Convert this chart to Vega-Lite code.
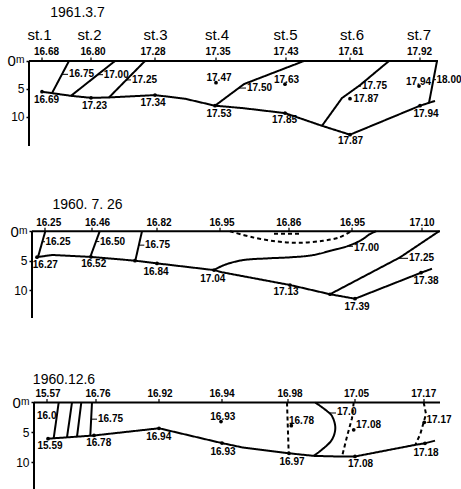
{
  "$schema": "https://vega.github.io/schema/vega-lite/v6.json",
  "background": "white",
  "padding": {"left": 7, "top": 0, "right": 0, "bottom": 0},
  "spacing": 50,
  "bounds": "flush",
  "resolve": {"scale": {"x": "independent", "y": "independent"}},
  "config": {
    "view": {"stroke": null},
    "axis": {"labelFont": "Liberation Sans", "labelColor": "#000", "tickColor": "#000", "labelFontSize": 12, "tickSize": 3, "tickWidth": 1.5, "labelPadding": 2, "grid": false, "domain": false, "title": null},
    "text": {"font": "Liberation Sans", "color": "#000", "baseline": "middle"},
    "point": {"color": "#000", "filled": true, "opacity": 1, "size": 14},
    "rule": {"color": "#000", "strokeWidth": 1.2},
    "line": {"color": "#000"}
  },
  "datasets": {
    "lines": [
      {"p": 1, "id": "surface", "kind": "surface", "x": 0, "d": 0},
      {"p": 1, "id": "surface", "kind": "surface", "x": 409, "d": 0},
      {"p": 1, "id": "axis", "kind": "axis", "x": 0, "d": 0},
      {"p": 1, "id": "axis", "kind": "axis", "x": 0, "d": 15.2},
      {"p": 1, "id": "bottom", "kind": "bottom", "x": 13, "d": 5.5},
      {"p": 1, "id": "bottom", "kind": "bottom", "x": 42, "d": 6.23},
      {"p": 1, "id": "bottom", "kind": "bottom", "x": 62, "d": 6.59},
      {"p": 1, "id": "bottom", "kind": "bottom", "x": 80, "d": 6.52},
      {"p": 1, "id": "bottom", "kind": "bottom", "x": 126, "d": 6.1},
      {"p": 1, "id": "bottom", "kind": "bottom", "x": 156, "d": 6.75},
      {"p": 1, "id": "bottom", "kind": "bottom", "x": 186, "d": 8.0},
      {"p": 1, "id": "bottom", "kind": "bottom", "x": 213, "d": 8.41},
      {"p": 1, "id": "bottom", "kind": "bottom", "x": 256, "d": 9.32},
      {"p": 1, "id": "bottom", "kind": "bottom", "x": 293, "d": 11.59},
      {"p": 1, "id": "bottom", "kind": "bottom", "x": 321, "d": 13.18},
      {"p": 1, "id": "bottom", "kind": "bottom", "x": 391, "d": 8.0},
      {"p": 1, "id": "bottom", "kind": "bottom", "x": 406, "d": 7.14},
      {"p": 1, "id": "16.75", "kind": "isotherm", "x": 40, "d": 0},
      {"p": 1, "id": "16.75", "kind": "isotherm", "x": 23, "d": 5.75},
      {"p": 1, "id": "17.00", "kind": "isotherm", "x": 86, "d": 0},
      {"p": 1, "id": "17.00", "kind": "isotherm", "x": 42, "d": 6.23},
      {"p": 1, "id": "17.25", "kind": "isotherm", "x": 116, "d": 0},
      {"p": 1, "id": "17.25", "kind": "isotherm", "x": 80, "d": 6.52},
      {"p": 1, "id": "17.50", "kind": "isotherm", "x": 275, "d": 0},
      {"p": 1, "id": "17.50", "kind": "isotherm", "x": 215, "d": 4.13},
      {"p": 1, "id": "17.50", "kind": "isotherm", "x": 186, "d": 8.0},
      {"p": 1, "id": "17.75", "kind": "isotherm", "x": 360, "d": 0},
      {"p": 1, "id": "17.75", "kind": "isotherm", "x": 331, "d": 4.32},
      {"p": 1, "id": "17.75", "kind": "isotherm", "x": 313, "d": 6.63},
      {"p": 1, "id": "17.75", "kind": "isotherm", "x": 293, "d": 11.59},
      {"p": 1, "id": "18.00", "kind": "isotherm", "x": 408, "d": 0},
      {"p": 1, "id": "18.00", "kind": "isotherm", "x": 400, "d": 7.49},

      {"p": 2, "id": "surface", "kind": "surface", "x": 3, "d": 0},
      {"p": 2, "id": "surface", "kind": "surface", "x": 411, "d": 0},
      {"p": 2, "id": "axis", "kind": "axis", "x": 3, "d": 0},
      {"p": 2, "id": "axis", "kind": "axis", "x": 3, "d": 14.75},
      {"p": 2, "id": "bottom", "kind": "bottom", "x": 8, "d": 4.4},
      {"p": 2, "id": "bottom", "kind": "bottom", "x": 23, "d": 4.03},
      {"p": 2, "id": "bottom", "kind": "bottom", "x": 62, "d": 4.36},
      {"p": 2, "id": "bottom", "kind": "bottom", "x": 106, "d": 5.0},
      {"p": 2, "id": "bottom", "kind": "bottom", "x": 128, "d": 5.46},
      {"p": 2, "id": "bottom", "kind": "bottom", "x": 185, "d": 6.6},
      {"p": 2, "id": "bottom", "kind": "bottom", "x": 193, "d": 6.97},
      {"p": 2, "id": "bottom", "kind": "bottom", "x": 261, "d": 9.14},
      {"p": 2, "id": "bottom", "kind": "bottom", "x": 301, "d": 10.71},
      {"p": 2, "id": "bottom", "kind": "bottom", "x": 326, "d": 11.47},
      {"p": 2, "id": "bottom", "kind": "bottom", "x": 392, "d": 7.05},
      {"p": 2, "id": "bottom", "kind": "bottom", "x": 403, "d": 6.37},
      {"p": 2, "id": "16.25", "kind": "isotherm", "x": 16.3, "d": 0},
      {"p": 2, "id": "16.25", "kind": "isotherm", "x": 9, "d": 4.38},
      {"p": 2, "id": "16.50", "kind": "isotherm", "x": 70.7, "d": 0},
      {"p": 2, "id": "16.50", "kind": "isotherm", "x": 61.3, "d": 4.36},
      {"p": 2, "id": "16.75", "kind": "isotherm", "x": 113, "d": 0},
      {"p": 2, "id": "16.75", "kind": "isotherm", "x": 106.3, "d": 5.0},
      {"p": 2, "id": "16.90", "kind": "isotherm (dashed)", "x": 201, "d": 0},
      {"p": 2, "id": "16.90", "kind": "isotherm (dashed)", "x": 225, "d": 1.08},
      {"p": 2, "id": "16.90", "kind": "isotherm (dashed)", "x": 249, "d": 1.75},
      {"p": 2, "id": "16.90", "kind": "isotherm (dashed)", "x": 271, "d": 1.95},
      {"p": 2, "id": "16.90", "kind": "isotherm (dashed)", "x": 294, "d": 1.61},
      {"p": 2, "id": "16.90", "kind": "isotherm (dashed)", "x": 310, "d": 1.07},
      {"p": 2, "id": "16.90", "kind": "isotherm (dashed)", "x": 322, "d": 0},
      {"p": 2, "id": "16.85", "kind": "isotherm (dashed)", "x": 245, "d": 0.4},
      {"p": 2, "id": "16.85", "kind": "isotherm (dashed)", "x": 270, "d": 0.4},
      {"p": 2, "id": "17.00", "kind": "isotherm", "x": 185, "d": 6.6},
      {"p": 2, "id": "17.00", "kind": "isotherm", "x": 195, "d": 5.75},
      {"p": 2, "id": "17.00", "kind": "isotherm", "x": 213, "d": 4.93},
      {"p": 2, "id": "17.00", "kind": "isotherm", "x": 238, "d": 4.61},
      {"p": 2, "id": "17.00", "kind": "isotherm", "x": 260, "d": 4.44},
      {"p": 2, "id": "17.00", "kind": "isotherm", "x": 283, "d": 4.08},
      {"p": 2, "id": "17.00", "kind": "isotherm", "x": 303, "d": 3.25},
      {"p": 2, "id": "17.00", "kind": "isotherm", "x": 320, "d": 2.44},
      {"p": 2, "id": "17.00", "kind": "isotherm", "x": 333, "d": 1.42},
      {"p": 2, "id": "17.00", "kind": "isotherm", "x": 341, "d": 0.47},
      {"p": 2, "id": "17.00", "kind": "isotherm", "x": 347, "d": 0},
      {"p": 2, "id": "17.25", "kind": "isotherm", "x": 301, "d": 10.71},
      {"p": 2, "id": "17.25", "kind": "isotherm", "x": 371, "d": 4.44},
      {"p": 2, "id": "17.25", "kind": "isotherm", "x": 410, "d": 0},

      {"p": 3, "id": "surface", "kind": "surface", "x": 5, "d": 0},
      {"p": 3, "id": "surface", "kind": "surface", "x": 411, "d": 0},
      {"p": 3, "id": "axis", "kind": "axis", "x": 5, "d": 0},
      {"p": 3, "id": "axis", "kind": "axis", "x": 5, "d": 14.42},
      {"p": 3, "id": "bottom", "kind": "bottom", "x": 19, "d": 6.03},
      {"p": 3, "id": "bottom", "kind": "bottom", "x": 65, "d": 5.5},
      {"p": 3, "id": "bottom", "kind": "bottom", "x": 130, "d": 4.3},
      {"p": 3, "id": "bottom", "kind": "bottom", "x": 193, "d": 6.77},
      {"p": 3, "id": "bottom", "kind": "bottom", "x": 213, "d": 7.48},
      {"p": 3, "id": "bottom", "kind": "bottom", "x": 260, "d": 8.47},
      {"p": 3, "id": "bottom", "kind": "bottom", "x": 285, "d": 8.9},
      {"p": 3, "id": "bottom", "kind": "bottom", "x": 313, "d": 9.02},
      {"p": 3, "id": "bottom", "kind": "bottom", "x": 326, "d": 9.0},
      {"p": 3, "id": "bottom", "kind": "bottom", "x": 386, "d": 7.07},
      {"p": 3, "id": "bottom", "kind": "bottom", "x": 396, "d": 6.8},
      {"p": 3, "id": "bottom", "kind": "bottom", "x": 406, "d": 6.37},
      {"p": 3, "id": "16.00", "kind": "isotherm", "x": 29.7, "d": 0},
      {"p": 3, "id": "16.00", "kind": "isotherm", "x": 24.7, "d": 5.96},
      {"p": 3, "id": "16.25", "kind": "isotherm", "x": 43, "d": 0},
      {"p": 3, "id": "16.25", "kind": "isotherm", "x": 38, "d": 5.81},
      {"p": 3, "id": "16.50", "kind": "isotherm", "x": 52.3, "d": 0},
      {"p": 3, "id": "16.50", "kind": "isotherm", "x": 48, "d": 5.7},
      {"p": 3, "id": "16.75", "kind": "isotherm", "x": 63, "d": 0},
      {"p": 3, "id": "16.75", "kind": "isotherm", "x": 61.3, "d": 5.54},
      {"p": 3, "id": "16.90", "kind": "isotherm (dashed)", "x": 258, "d": 0},
      {"p": 3, "id": "16.90", "kind": "isotherm (dashed)", "x": 259.7, "d": 8.47},
      {"p": 3, "id": "17.0", "kind": "isotherm", "x": 286.3, "d": 0},
      {"p": 3, "id": "17.0", "kind": "isotherm", "x": 298, "d": 1.43},
      {"p": 3, "id": "17.0", "kind": "isotherm", "x": 303, "d": 2.27},
      {"p": 3, "id": "17.0", "kind": "isotherm", "x": 306.3, "d": 4.23},
      {"p": 3, "id": "17.0", "kind": "isotherm", "x": 303, "d": 6.18},
      {"p": 3, "id": "17.0", "kind": "isotherm", "x": 293, "d": 7.85},
      {"p": 3, "id": "17.0", "kind": "isotherm", "x": 284.7, "d": 8.89},
      {"p": 3, "id": "17.05", "kind": "isotherm (dashed)", "x": 324.7, "d": 0},
      {"p": 3, "id": "17.05", "kind": "isotherm (dashed)", "x": 323, "d": 2.62},
      {"p": 3, "id": "17.05", "kind": "isotherm (dashed)", "x": 318, "d": 5.68},
      {"p": 3, "id": "17.05", "kind": "isotherm (dashed)", "x": 313, "d": 9.02},
      {"p": 3, "id": "17.15", "kind": "isotherm (dashed)", "x": 394.7, "d": 0},
      {"p": 3, "id": "17.15", "kind": "isotherm (dashed)", "x": 397, "d": 1.92},
      {"p": 3, "id": "17.15", "kind": "isotherm (dashed)", "x": 391.3, "d": 5.26},
      {"p": 3, "id": "17.15", "kind": "isotherm (dashed)", "x": 386.3, "d": 7.07}
    ],
    "leaders": [
      {"p": 1, "x": 33, "x2": 39, "d": 2.39},
      {"p": 1, "x": 68.7, "x2": 74, "d": 2.45},
      {"p": 1, "x": 97.3, "x2": 102, "d": 3.39},
      {"p": 1, "x": 210, "x2": 217, "d": 4.84},
      {"p": 1, "x": 329.6, "x2": 332, "d": 4.5},
      {"p": 1, "x": 404.4, "x2": 407, "d": 3.34},
      {"p": 2, "x": 13.3, "x2": 16, "d": 1.78},
      {"p": 2, "x": 66.9, "x2": 70.3, "d": 1.75},
      {"p": 2, "x": 109.8, "x2": 115.3, "d": 2.36},
      {"p": 2, "x": 320, "x2": 324, "d": 2.55},
      {"p": 2, "x": 369.5, "x2": 379, "d": 4.6},
      {"p": 3, "x": 62.1, "x2": 68, "d": 2.78},
      {"p": 3, "x": 300.4, "x2": 307, "d": 1.75}
    ],
    "ticks": [
      {"p": 1, "x": 13}, {"p": 1, "x": 62}, {"p": 1, "x": 126}, {"p": 1, "x": 187}, {"p": 1, "x": 257}, {"p": 1, "x": 321}, {"p": 1, "x": 391},
      {"p": 2, "x": 16}, {"p": 2, "x": 63}, {"p": 2, "x": 128}, {"p": 2, "x": 191}, {"p": 2, "x": 260}, {"p": 2, "x": 323}, {"p": 2, "x": 393},
      {"p": 3, "x": 18}, {"p": 3, "x": 67}, {"p": 3, "x": 130}, {"p": 3, "x": 193}, {"p": 3, "x": 259}, {"p": 3, "x": 326}, {"p": 3, "x": 395}
    ],
    "points": [
      {"p": 1, "x": 13, "d": 5.5}, {"p": 1, "x": 62, "d": 6.59}, {"p": 1, "x": 126, "d": 6.1}, {"p": 1, "x": 186, "d": 8.0},
      {"p": 1, "x": 256, "d": 9.32}, {"p": 1, "x": 321, "d": 13.18}, {"p": 1, "x": 391, "d": 8.0},
      {"p": 1, "x": 187, "d": 3.89}, {"p": 1, "x": 256, "d": 4.14}, {"p": 1, "x": 321, "d": 6.75}, {"p": 1, "x": 390, "d": 4.48},
      {"p": 2, "x": 8, "d": 4.4}, {"p": 2, "x": 62, "d": 4.36}, {"p": 2, "x": 106, "d": 5.0}, {"p": 2, "x": 128, "d": 5.46},
      {"p": 2, "x": 185, "d": 6.6}, {"p": 2, "x": 261, "d": 9.14}, {"p": 2, "x": 301, "d": 10.71}, {"p": 2, "x": 326, "d": 11.47}, {"p": 2, "x": 392, "d": 7.05},
      {"p": 3, "x": 19, "d": 6.03}, {"p": 3, "x": 65, "d": 5.5}, {"p": 3, "x": 130, "d": 4.3}, {"p": 3, "x": 193, "d": 6.77},
      {"p": 3, "x": 260, "d": 8.47}, {"p": 3, "x": 326, "d": 9.0}, {"p": 3, "x": 396, "d": 6.8},
      {"p": 3, "x": 192, "d": 3.17}, {"p": 3, "x": 262.3, "d": 3.87}, {"p": 3, "x": 324.7, "d": 4.55}, {"p": 3, "x": 395.3, "d": 3.3}
    ],
    "labels": [
      {"p": 1, "role": "station", "x": 10.5, "d": -4.65, "t": "st.1"},
      {"p": 1, "role": "station", "x": 60.5, "d": -4.65, "t": "st.2"},
      {"p": 1, "role": "station", "x": 126.5, "d": -4.65, "t": "st.3"},
      {"p": 1, "role": "station", "x": 188, "d": -4.65, "t": "st.4"},
      {"p": 1, "role": "station", "x": 256.5, "d": -4.65, "t": "st.5"},
      {"p": 1, "role": "station", "x": 323, "d": -4.65, "t": "st.6"},
      {"p": 1, "role": "station", "x": 390, "d": -4.65, "t": "st.7"},
      {"p": 1, "role": "value", "x": 17.5, "d": -1.6, "t": "16.68"},
      {"p": 1, "role": "value", "x": 64, "d": -1.6, "t": "16.80"},
      {"p": 1, "role": "value", "x": 124, "d": -1.6, "t": "17.28"},
      {"p": 1, "role": "value", "x": 189, "d": -1.6, "t": "17.35"},
      {"p": 1, "role": "value", "x": 257, "d": -1.6, "t": "17.43"},
      {"p": 1, "role": "value", "x": 322, "d": -1.6, "t": "17.61"},
      {"p": 1, "role": "value", "x": 390.5, "d": -1.6, "t": "17.92"},
      {"p": 1, "role": "value", "x": 17.5, "d": 7.0, "t": "16.69"},
      {"p": 1, "role": "value", "x": 65.5, "d": 7.96, "t": "17.23"},
      {"p": 1, "role": "value", "x": 124, "d": 7.48, "t": "17.34"},
      {"p": 1, "role": "value", "x": 190, "d": 9.5, "t": "17.53"},
      {"p": 1, "role": "value", "x": 255.5, "d": 10.63, "t": "17.85"},
      {"p": 1, "role": "value", "x": 321.5, "d": 14.36, "t": "17.87"},
      {"p": 1, "role": "value", "x": 397, "d": 9.45, "t": "17.94"},
      {"p": 1, "role": "value", "x": 190, "d": 3.0, "t": "17.47"},
      {"p": 1, "role": "value", "x": 257.5, "d": 3.48, "t": "17.63"},
      {"p": 1, "role": "value", "x": 337, "d": 6.86, "t": "17.87"},
      {"p": 1, "role": "value", "x": 389.5, "d": 3.73, "t": "17.94"},
      {"p": 1, "role": "isotherm", "x": 40, "d": 2.39, "t": "16.75"},
      {"p": 1, "role": "isotherm", "x": 74.7, "d": 2.45, "t": "17.00"},
      {"p": 1, "role": "isotherm", "x": 103, "d": 3.39, "t": "17.25"},
      {"p": 1, "role": "isotherm", "x": 218, "d": 4.84, "t": "17.50"},
      {"p": 1, "role": "isotherm", "x": 333, "d": 4.5, "t": "17.75"},
      {"p": 1, "role": "isotherm", "x": 407.5, "d": 3.34, "t": "18.00"},

      {"p": 2, "role": "value", "x": 19.7, "d": -1.33, "t": "16.25"},
      {"p": 2, "role": "value", "x": 68.5, "d": -1.33, "t": "16.46"},
      {"p": 2, "role": "value", "x": 130, "d": -1.33, "t": "16.82"},
      {"p": 2, "role": "value", "x": 193, "d": -1.33, "t": "16.95"},
      {"p": 2, "role": "value", "x": 259.7, "d": -1.33, "t": "16.86"},
      {"p": 2, "role": "value", "x": 323.5, "d": -1.33, "t": "16.95"},
      {"p": 2, "role": "value", "x": 393, "d": -1.33, "t": "17.10"},
      {"p": 2, "role": "value", "x": 16.3, "d": 5.73, "t": "16.27"},
      {"p": 2, "role": "value", "x": 64.7, "d": 5.5, "t": "16.52"},
      {"p": 2, "role": "value", "x": 127, "d": 6.88, "t": "16.84"},
      {"p": 2, "role": "value", "x": 183.8, "d": 8.08, "t": "17.04"},
      {"p": 2, "role": "value", "x": 257, "d": 10.27, "t": "17.13"},
      {"p": 2, "role": "value", "x": 328, "d": 12.9, "t": "17.39"},
      {"p": 2, "role": "value", "x": 397, "d": 8.46, "t": "17.38"},
      {"p": 2, "role": "isotherm", "x": 16.5, "d": 1.78, "t": "16.25"},
      {"p": 2, "role": "isotherm", "x": 71, "d": 1.75, "t": "16.50"},
      {"p": 2, "role": "isotherm", "x": 116, "d": 2.36, "t": "16.75"},
      {"p": 2, "role": "isotherm", "x": 325, "d": 2.83, "t": "17.00"},
      {"p": 2, "role": "isotherm", "x": 380, "d": 4.6, "t": "17.25"},

      {"p": 3, "role": "value", "x": 19, "d": -1.42, "t": "15.57"},
      {"p": 3, "role": "value", "x": 69, "d": -1.42, "t": "16.76"},
      {"p": 3, "role": "value", "x": 131, "d": -1.42, "t": "16.92"},
      {"p": 3, "role": "value", "x": 193, "d": -1.42, "t": "16.94"},
      {"p": 3, "role": "value", "x": 261, "d": -1.42, "t": "16.98"},
      {"p": 3, "role": "value", "x": 327.5, "d": -1.42, "t": "17.05"},
      {"p": 3, "role": "value", "x": 394.7, "d": -1.42, "t": "17.17"},
      {"p": 3, "role": "value", "x": 21, "d": 7.25, "t": "15.59"},
      {"p": 3, "role": "value", "x": 69.7, "d": 6.68, "t": "16.78"},
      {"p": 3, "role": "value", "x": 129.7, "d": 5.8, "t": "16.94"},
      {"p": 3, "role": "value", "x": 194, "d": 8.17, "t": "16.93"},
      {"p": 3, "role": "value", "x": 263, "d": 9.87, "t": "16.97"},
      {"p": 3, "role": "value", "x": 331.5, "d": 10.28, "t": "17.08"},
      {"p": 3, "role": "value", "x": 397, "d": 8.42, "t": "17.18"},
      {"p": 3, "role": "value", "x": 193.8, "d": 2.43, "t": "16.93"},
      {"p": 3, "role": "value", "x": 272.5, "d": 3.05, "t": "16.78"},
      {"p": 3, "role": "value", "x": 339.5, "d": 3.7, "t": "17.08"},
      {"p": 3, "role": "value", "x": 410, "d": 2.85, "t": "17.17"},
      {"p": 3, "role": "isotherm", "x": 8, "d": 2.2, "t": "16.0"},
      {"p": 3, "role": "isotherm", "x": 69, "d": 2.78, "t": "16.75"},
      {"p": 3, "role": "isotherm", "x": 308, "d": 1.6, "t": "17.0"}
    ],
    "dates": [
      {"p": 1, "x": 48.5, "d": -8.58, "t": "1961.3.7"},
      {"p": 2, "x": 58.5, "d": -4.47, "t": "1960. 7. 26"},
      {"p": 3, "x": 35, "d": -3.75, "t": "1960.12.6"}
    ]
  },
  "vconcat": [
    {
      "width": 411, "height": 146,
      "layer": [
        {"data": {"name": "lines"}, "transform": [{"filter": "datum.p == 1"}],
         "mark": {"type": "line"},
         "encoding": {
           "x": {"field": "x", "type": "quantitative", "scale": {"domain": [0, 411], "nice": false, "zero": false}, "axis": null},
           "y": {"field": "d", "type": "quantitative", "scale": {"domain": [-10.9, 15.2], "reverse": true, "nice": false, "zero": false},
                 "axis": {"values": [0, 5, 10], "offset": 0, "labelExpr": "datum.value == 0 ? '0ᵐ' : datum.label", "labelFontSize": {"condition": {"test": "datum.value == 0", "value": 15}, "value": 12}}},
           "detail": {"field": "id"},
           "order": {"value": null},
           "strokeWidth": {"field": "kind", "type": "nominal", "scale": {"domain": ["surface", "axis", "bottom", "isotherm", "isotherm (dashed)"], "range": [2, 2, 1.5, 1.2, 1.2]}, "legend": null},
           "strokeDash": {"field": "kind", "type": "nominal", "scale": {"domain": ["surface", "axis", "bottom", "isotherm", "isotherm (dashed)"], "range": [[1, 0], [1, 0], [1, 0], [1, 0], [4, 3]]}, "legend": null}
         }},
        {"data": {"name": "leaders"}, "transform": [{"filter": "datum.p == 1"}],
         "mark": {"type": "rule", "strokeWidth": 1},
         "encoding": {"x": {"field": "x", "type": "quantitative"}, "x2": {"field": "x2"}, "y": {"field": "d", "type": "quantitative"}}},
        {"data": {"name": "ticks"}, "transform": [{"filter": "datum.p == 1"}],
         "mark": {"type": "rule", "strokeWidth": 1.2},
         "encoding": {"x": {"field": "x", "type": "quantitative"}, "y": {"datum": 0}, "y2": {"datum": -0.6}}},
        {"data": {"name": "points"}, "transform": [{"filter": "datum.p == 1"}],
         "mark": {"type": "point"},
         "encoding": {"x": {"field": "x", "type": "quantitative"}, "y": {"field": "d", "type": "quantitative"}}},
        {"data": {"name": "dates"}, "transform": [{"filter": "datum.p == 1"}],
         "mark": {"type": "text", "align": "center", "fontSize": 14},
         "encoding": {"x": {"field": "x", "type": "quantitative"}, "y": {"field": "d", "type": "quantitative"}, "text": {"field": "t", "type": "nominal"}}},
        {"data": {"name": "labels"}, "transform": [{"filter": "datum.p == 1 && datum.role == 'station'"}],
         "mark": {"type": "text", "align": "center", "fontSize": 15},
         "encoding": {"x": {"field": "x", "type": "quantitative"}, "y": {"field": "d", "type": "quantitative"}, "text": {"field": "t"}}},
        {"data": {"name": "labels"}, "transform": [{"filter": "datum.p == 1 && datum.role == 'value'"}],
         "mark": {"type": "text", "align": "center", "fontSize": 10, "fontWeight": "bold"},
         "encoding": {"x": {"field": "x", "type": "quantitative"}, "y": {"field": "d", "type": "quantitative"}, "text": {"field": "t"}}},
        {"data": {"name": "labels"}, "transform": [{"filter": "datum.p == 1 && datum.role == 'isotherm'"}],
         "mark": {"type": "text", "align": "left", "fontSize": 10, "fontWeight": "bold"},
         "encoding": {"x": {"field": "x", "type": "quantitative"}, "y": {"field": "d", "type": "quantitative"}, "text": {"field": "t"}}}
      ]
    },
    {
      "width": 411, "height": 122,
      "layer": [
        {"data": {"name": "lines"}, "transform": [{"filter": "datum.p == 2 && datum.id != '16.90' && datum.id != '17.00'"}],
         "mark": {"type": "line"},
         "encoding": {
           "x": {"field": "x", "type": "quantitative", "scale": {"domain": [0, 411], "nice": false, "zero": false}, "axis": null},
           "y": {"field": "d", "type": "quantitative", "scale": {"domain": [-6, 14.75], "reverse": true, "nice": false, "zero": false},
                 "axis": {"values": [0, 5, 10], "offset": -3, "labelExpr": "datum.value == 0 ? '0ᵐ' : datum.label", "labelFontSize": {"condition": {"test": "datum.value == 0", "value": 15}, "value": 12}}},
           "detail": {"field": "id"},
           "order": {"value": null},
           "strokeWidth": {"field": "kind", "type": "nominal", "scale": {"domain": ["surface", "axis", "bottom", "isotherm", "isotherm (dashed)"], "range": [2, 2, 1.5, 1.2, 1.2]}, "legend": null},
           "strokeDash": {"field": "kind", "type": "nominal", "scale": {"domain": ["surface", "axis", "bottom", "isotherm", "isotherm (dashed)"], "range": [[1, 0], [1, 0], [1, 0], [1, 0], [4, 3]]}, "legend": null}
         }},
        {"data": {"name": "lines"}, "transform": [{"filter": "datum.p == 2 && (datum.id == '16.90' || datum.id == '17.00')"}],
         "mark": {"type": "line", "interpolate": "catmull-rom"},
         "encoding": {
           "x": {"field": "x", "type": "quantitative"},
           "y": {"field": "d", "type": "quantitative"},
           "detail": {"field": "id"},
           "order": {"value": null},
           "strokeWidth": {"field": "kind", "type": "nominal", "legend": null},
           "strokeDash": {"field": "kind", "type": "nominal", "legend": null}
         }},
        {"data": {"name": "leaders"}, "transform": [{"filter": "datum.p == 2"}],
         "mark": {"type": "rule", "strokeWidth": 1},
         "encoding": {"x": {"field": "x", "type": "quantitative"}, "x2": {"field": "x2"}, "y": {"field": "d", "type": "quantitative"}}},
        {"data": {"name": "ticks"}, "transform": [{"filter": "datum.p == 2"}],
         "mark": {"type": "rule", "strokeWidth": 1.2},
         "encoding": {"x": {"field": "x", "type": "quantitative"}, "y": {"datum": 0}, "y2": {"datum": -0.6}}},
        {"data": {"name": "points"}, "transform": [{"filter": "datum.p == 2"}],
         "mark": {"type": "point"},
         "encoding": {"x": {"field": "x", "type": "quantitative"}, "y": {"field": "d", "type": "quantitative"}}},
        {"data": {"name": "dates"}, "transform": [{"filter": "datum.p == 2"}],
         "mark": {"type": "text", "align": "center", "fontSize": 14},
         "encoding": {"x": {"field": "x", "type": "quantitative"}, "y": {"field": "d", "type": "quantitative"}, "text": {"field": "t", "type": "nominal"}}},
        {"data": {"name": "labels"}, "transform": [{"filter": "datum.p == 2 && datum.role == 'value'"}],
         "mark": {"type": "text", "align": "center", "fontSize": 10, "fontWeight": "bold"},
         "encoding": {"x": {"field": "x", "type": "quantitative"}, "y": {"field": "d", "type": "quantitative"}, "text": {"field": "t"}}},
        {"data": {"name": "labels"}, "transform": [{"filter": "datum.p == 2 && datum.role == 'isotherm'"}],
         "mark": {"type": "text", "align": "left", "fontSize": 10, "fontWeight": "bold"},
         "encoding": {"x": {"field": "x", "type": "quantitative"}, "y": {"field": "d", "type": "quantitative"}, "text": {"field": "t"}}}
      ]
    },
    {
      "width": 411, "height": 121,
      "layer": [
        {"data": {"name": "lines"}, "transform": [{"filter": "datum.p == 3 && datum.id != '17.0'"}],
         "mark": {"type": "line"},
         "encoding": {
           "x": {"field": "x", "type": "quantitative", "scale": {"domain": [0, 411], "nice": false, "zero": false}, "axis": null},
           "y": {"field": "d", "type": "quantitative", "scale": {"domain": [-5.75, 14.42], "reverse": true, "nice": false, "zero": false},
                 "axis": {"values": [0, 5, 10], "offset": -5, "labelExpr": "datum.value == 0 ? '0ᵐ' : datum.label", "labelFontSize": {"condition": {"test": "datum.value == 0", "value": 15}, "value": 12}}},
           "detail": {"field": "id"},
           "order": {"value": null},
           "strokeWidth": {"field": "kind", "type": "nominal", "scale": {"domain": ["surface", "axis", "bottom", "isotherm", "isotherm (dashed)"], "range": [2, 2, 1.5, 1.2, 1.2]}, "legend": null},
           "strokeDash": {"field": "kind", "type": "nominal", "scale": {"domain": ["surface", "axis", "bottom", "isotherm", "isotherm (dashed)"], "range": [[1, 0], [1, 0], [1, 0], [1, 0], [4, 3]]}, "legend": null}
         }},
        {"data": {"name": "lines"}, "transform": [{"filter": "datum.p == 3 && datum.id == '17.0'"}],
         "mark": {"type": "line", "interpolate": "catmull-rom"},
         "encoding": {
           "x": {"field": "x", "type": "quantitative"},
           "y": {"field": "d", "type": "quantitative"},
           "detail": {"field": "id"},
           "order": {"value": null},
           "strokeWidth": {"field": "kind", "type": "nominal", "legend": null},
           "strokeDash": {"field": "kind", "type": "nominal", "legend": null}
         }},
        {"data": {"name": "leaders"}, "transform": [{"filter": "datum.p == 3"}],
         "mark": {"type": "rule", "strokeWidth": 1},
         "encoding": {"x": {"field": "x", "type": "quantitative"}, "x2": {"field": "x2"}, "y": {"field": "d", "type": "quantitative"}}},
        {"data": {"name": "ticks"}, "transform": [{"filter": "datum.p == 3"}],
         "mark": {"type": "rule", "strokeWidth": 1.2},
         "encoding": {"x": {"field": "x", "type": "quantitative"}, "y": {"datum": 0}, "y2": {"datum": -0.6}}},
        {"data": {"name": "points"}, "transform": [{"filter": "datum.p == 3"}],
         "mark": {"type": "point"},
         "encoding": {"x": {"field": "x", "type": "quantitative"}, "y": {"field": "d", "type": "quantitative"}}},
        {"data": {"name": "dates"}, "transform": [{"filter": "datum.p == 3"}],
         "mark": {"type": "text", "align": "center", "fontSize": 14},
         "encoding": {"x": {"field": "x", "type": "quantitative"}, "y": {"field": "d", "type": "quantitative"}, "text": {"field": "t", "type": "nominal"}}},
        {"data": {"name": "labels"}, "transform": [{"filter": "datum.p == 3 && datum.role == 'value'"}],
         "mark": {"type": "text", "align": "center", "fontSize": 10, "fontWeight": "bold"},
         "encoding": {"x": {"field": "x", "type": "quantitative"}, "y": {"field": "d", "type": "quantitative"}, "text": {"field": "t"}}},
        {"data": {"name": "labels"}, "transform": [{"filter": "datum.p == 3 && datum.role == 'isotherm'"}],
         "mark": {"type": "text", "align": "left", "fontSize": 10, "fontWeight": "bold"},
         "encoding": {"x": {"field": "x", "type": "quantitative"}, "y": {"field": "d", "type": "quantitative"}, "text": {"field": "t"}}}
      ]
    }
  ]
}
